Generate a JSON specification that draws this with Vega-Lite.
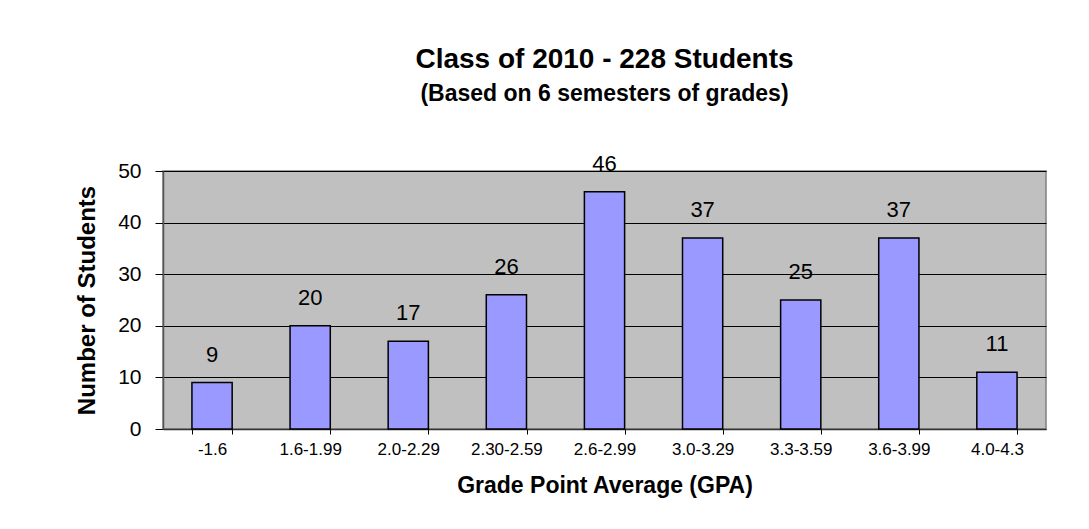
{
  "$schema": "https://vega.github.io/schema/vega-lite/v6.json",
  "autosize": {"type": "none"},
  "width": 883,
  "height": 258,
  "padding": {"left": 163, "top": 171, "right": 43, "bottom": 100},
  "background": "white",
  "config": {
    "font": "Liberation Sans",
    "view": {"fill": "#C0C0C0", "stroke": "#808080", "strokeWidth": 1.5}
  },
  "title": {
    "text": "Class of 2010 - 228 Students",
    "subtitle": "(Based on 6 semesters of grades)",
    "anchor": "middle",
    "fontSize": 28,
    "fontWeight": "bold",
    "color": "black",
    "subtitleFontSize": 23,
    "subtitleFontWeight": "bold",
    "subtitleColor": "black",
    "subtitlePadding": 9,
    "offset": 47
  },
  "data": {
    "values": [
      {"gpa": "-1.6", "students": 9},
      {"gpa": "1.6-1.99", "students": 20},
      {"gpa": "2.0-2.29", "students": 17},
      {"gpa": "2.30-2.59", "students": 26},
      {"gpa": "2.6-2.99", "students": 46},
      {"gpa": "3.0-3.29", "students": 37},
      {"gpa": "3.3-3.59", "students": 25},
      {"gpa": "3.6-3.99", "students": 37},
      {"gpa": "4.0-4.3", "students": 11}
    ]
  },
  "encoding": {
    "x": {
      "field": "gpa",
      "type": "nominal",
      "sort": null,
      "scale": {"paddingInner": 0.59, "paddingOuter": 0.295},
      "axis": {
        "title": "Grade Point Average (GPA)",
        "titleFontSize": 23,
        "titleFontWeight": "bold",
        "titleColor": "black",
        "titlePadding": 17,
        "labelAngle": 0,
        "labelFontSize": 17,
        "labelColor": "black",
        "labelPadding": 7,
        "tickBand": "extent",
        "tickSize": 5,
        "tickColor": "black",
        "domainColor": "#333333",
        "domainWidth": 1.5,
        "grid": false
      }
    },
    "y": {
      "field": "students",
      "type": "quantitative",
      "scale": {"domain": [0, 50], "nice": false},
      "axis": {
        "title": "Number of Students",
        "titleFontSize": 24,
        "titleFontWeight": "bold",
        "titleColor": "black",
        "titlePadding": 18,
        "values": [0, 10, 20, 30, 40, 50],
        "labelFontSize": 21,
        "labelColor": "black",
        "labelPadding": 14,
        "tickSize": 8,
        "tickColor": "black",
        "domainColor": "#555555",
        "domainWidth": 1.5,
        "grid": true,
        "gridColor": "black",
        "gridWidth": 1,
        "gridOpacity": 1
      }
    }
  },
  "layer": [
    {
      "mark": {"type": "bar", "fill": "#9999FF", "stroke": "black", "strokeWidth": 1.5}
    },
    {
      "mark": {"type": "text", "dy": -21, "baseline": "alphabetic", "fontSize": 22, "color": "black"},
      "encoding": {"text": {"field": "students", "type": "quantitative"}}
    }
  ]
}
